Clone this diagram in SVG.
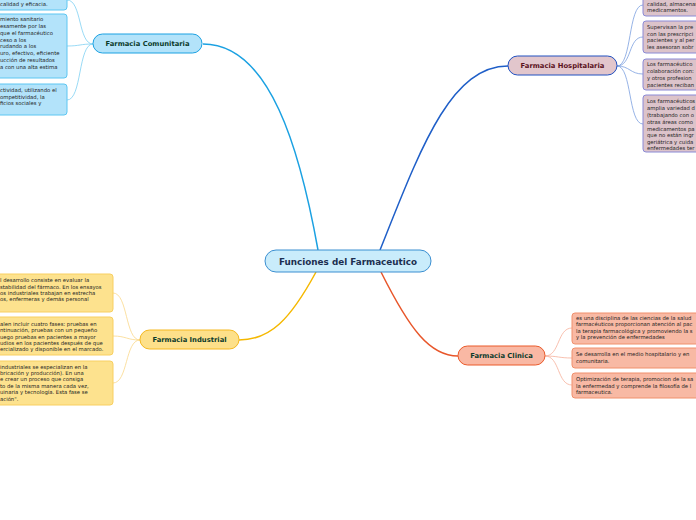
<svg xmlns="http://www.w3.org/2000/svg" width="696" height="520" viewBox="0 0 696 520">
<style>
.leaf{font-family:"DejaVu Sans",Verdana,sans-serif;font-size:5.3px;fill:#222}
.br{font-family:"DejaVu Sans",Verdana,sans-serif;font-size:6.8px;font-weight:bold;text-anchor:middle}
.title{font-family:"DejaVu Sans",Verdana,sans-serif;font-size:8.8px;font-weight:bold;text-anchor:middle;fill:#1c2f50}
.c{fill:none}
.bl{fill:#b3e3fa;stroke:#5cc6f2;stroke-width:1}
.hb{fill:#dcc3ca;stroke:#8a8ad6;stroke-width:1}
.yb{fill:#fde28e;stroke:#f8cf60;stroke-width:1}
.cb{fill:#f8b9a4;stroke:#f0906c;stroke-width:1}
</style>
<rect width="696" height="520" fill="#ffffff"/>
<g id="connectors">
<path class="c" d="M318,250 C300,150 270,44 203,44" stroke="#1ba1e2" stroke-width="1.5"/>
<path class="c" d="M380,250 C420,150 450,66 508,66" stroke="#1f5fc8" stroke-width="1.5"/>
<path class="c" d="M316,272 C290,320 270,340 239,340" stroke="#f5b800" stroke-width="1.5"/>
<path class="c" d="M381,272 C410,330 430,356 458,356" stroke="#e8562a" stroke-width="1.5"/>
<g stroke="#7fd0f3" stroke-width="0.8" fill="none">
<path d="M93,44 C78,44 82,0 67,0"/>
<path d="M93,44 C80,44 80,46 67,46"/>
<path d="M93,44 C78,44 82,100 67,100"/>
</g>
<g stroke="#7b9fe0" stroke-width="0.8" fill="none">
<path d="M617,66 C632,66 628,5 643,5"/>
<path d="M617,66 C632,66 628,37 643,37"/>
<path d="M617,66 C630,66 630,74 643,74"/>
<path d="M617,66 C632,66 628,124 643,124"/>
</g>
<g stroke="#fad88a" stroke-width="0.8" fill="none">
<path d="M140,340 C125,340 128,293 113,293"/>
<path d="M140,340 C127,340 126,336 113,336"/>
<path d="M140,340 C125,340 128,383 113,383"/>
</g>
<g stroke="#f6b09a" stroke-width="0.8" fill="none">
<path d="M545,356 C560,356 557,328 572,328"/>
<path d="M545,356 C558,356 559,358 572,358"/>
<path d="M545,356 C560,356 557,385 572,385"/>
</g>
</g>
<g id="center">
<rect x="265" y="250" width="166" height="22" rx="11" fill="#c9ecfb" stroke="#3b8fd1" stroke-width="1"/>
<text class="title" x="348" y="264.5">Funciones del Farmaceutico</text>
</g>
<g id="comunitaria">
<rect x="93" y="34" width="109" height="19" rx="9.5" fill="#b3e3fa" stroke="#1ba1e2" stroke-width="1"/>
<text class="br" x="147.5" y="46" fill="#0b3b2b">Farmacia Comunitaria</text>
</g>
<g id="c1">
<rect class="bl" x="-20" y="-20" width="87" height="30" rx="3"/>
<text class="leaf" x="0" y="6">calidad y eficacia.</text>
</g>
<g id="c2">
<rect class="bl" x="-20" y="14" width="87" height="64" rx="3"/>
<text class="leaf"><tspan x="0" y="21">miento sanitario</tspan><tspan x="0" y="28">esamente por las</tspan><tspan x="0" y="35">que el farmacéutico</tspan><tspan x="0" y="42">ceso a los</tspan><tspan x="0" y="48">rudando a los</tspan><tspan x="0" y="55">uro, efectivo, eficiente</tspan><tspan x="0" y="62">ucción de resultados</tspan><tspan x="0" y="69">a con una alta estima</tspan></text>
</g>
<g id="c3">
<rect class="bl" x="-20" y="84" width="87" height="31" rx="3"/>
<text class="leaf"><tspan x="0" y="92">ctividad, utilizando el</tspan><tspan x="0" y="99">ompetitividad, la</tspan><tspan x="0" y="105">ficios sociales y</tspan></text>
</g>
<g id="hospitalaria">
<rect x="508" y="56" width="109" height="19" rx="9.5" fill="#e2c6cc" stroke="#2050c0" stroke-width="1"/>
<text class="br" x="562.5" y="68" fill="#5a1020">Farmacia Hospitalaria</text>
</g>
<g id="h1">
<rect class="hb" x="643" y="-20" width="80" height="36" rx="3"/>
<text class="leaf"><tspan x="647" y="6">calidad, almacenam</tspan><tspan x="647" y="12">medicamentos.</tspan></text>
</g>
<g id="h2">
<rect class="hb" x="643" y="21" width="80" height="32" rx="3"/>
<text class="leaf"><tspan x="647" y="29">Supervisan la pre</tspan><tspan x="647" y="36">con las prescripci</tspan><tspan x="647" y="42">pacientes y al per</tspan><tspan x="647" y="49">les asesoran sobr</tspan></text>
</g>
<g id="h3">
<rect class="hb" x="643" y="59" width="80" height="31" rx="3"/>
<text class="leaf"><tspan x="647" y="66">Los farmacéutico</tspan><tspan x="647" y="73">colaboración con:</tspan><tspan x="647" y="80">y otros profesion</tspan><tspan x="647" y="87">pacientes reciban</tspan></text>
</g>
<g id="h4">
<rect class="hb" x="643" y="95" width="80" height="57" rx="3"/>
<text class="leaf"><tspan x="647" y="103">Los farmacéuticos</tspan><tspan x="647" y="110">amplia variedad d</tspan><tspan x="647" y="117">(trabajando con o</tspan><tspan x="647" y="124">otras áreas como</tspan><tspan x="647" y="131">medicamentos pa</tspan><tspan x="647" y="137">que no están ingr</tspan><tspan x="647" y="144">geriátrica y cuida</tspan><tspan x="647" y="150">enfermedades ter</tspan></text>
</g>
<g id="industrial">
<rect x="140" y="330" width="99" height="19" rx="9.5" fill="#fde08a" stroke="#f5b820" stroke-width="1"/>
<text class="br" x="189.5" y="342" fill="#0b3b2b">Farmacia Industrial</text>
</g>
<g id="i1">
<rect class="yb" x="-20" y="274" width="133" height="38" rx="3"/>
<text class="leaf"><tspan x="0" y="282">l desarrollo consiste en evaluar la</tspan><tspan x="0" y="289">stabilidad del fármaco. En los ensayos</tspan><tspan x="0" y="295">os industriales trabajan en estrecha</tspan><tspan x="0" y="301">os, enfermeras y demás personal</tspan></text>
</g>
<g id="i2">
<rect class="yb" x="-20" y="317" width="133" height="38" rx="3"/>
<text class="leaf"><tspan x="0" y="326">alen incluir cuatro fases: pruebas en</tspan><tspan x="0" y="332">ntinuación, pruebas con un pequeño</tspan><tspan x="0" y="339">uego pruebas en pacientes a mayor</tspan><tspan x="0" y="345">udios en los pacientes después de que</tspan><tspan x="0" y="351">ercializado y disponible en el marcado.</tspan></text>
</g>
<g id="i3">
<rect class="yb" x="-20" y="361" width="133" height="44" rx="3"/>
<text class="leaf"><tspan x="0" y="369">industriales se especializan en la</tspan><tspan x="0" y="375">bricación y producción). En una</tspan><tspan x="0" y="381">e crear un proceso que consiga</tspan><tspan x="0" y="388">to de la misma manera cada vez,</tspan><tspan x="0" y="394">uinaria y tecnología. Esta fase se</tspan><tspan x="0" y="401">ación".</tspan></text>
</g>
<g id="clinica">
<rect x="458" y="346" width="87" height="19" rx="9.5" fill="#f9b8a4" stroke="#ea5a2a" stroke-width="1"/>
<text class="br" x="501.5" y="358" fill="#0b3b2b">Farmacia Clinica</text>
</g>
<g id="k1">
<rect class="cb" x="572" y="313" width="140" height="31" rx="3"/>
<text class="leaf"><tspan x="576" y="320">es una disciplina de las ciencias de la salud</tspan><tspan x="576" y="326">farmacéuticos proporcionan atención al pac</tspan><tspan x="576" y="333">la terapia farmacológica y promoviendo la s</tspan><tspan x="576" y="339">y la prevención de enfermedades</tspan></text>
</g>
<g id="k2">
<rect class="cb" x="572" y="348" width="140" height="20" rx="3"/>
<text class="leaf"><tspan x="576" y="356">Se desarrolla en el medio hospitalario y en</tspan><tspan x="576" y="363">comunitaria.</tspan></text>
</g>
<g id="k3">
<rect class="cb" x="572" y="373" width="140" height="25" rx="3"/>
<text class="leaf"><tspan x="576" y="381">Optimización de terapia, promocion de la sa</tspan><tspan x="576" y="388">la enfermedad y comprende la filosofía de l</tspan><tspan x="576" y="394">farmaceutica.</tspan></text>
</g>
</svg>
